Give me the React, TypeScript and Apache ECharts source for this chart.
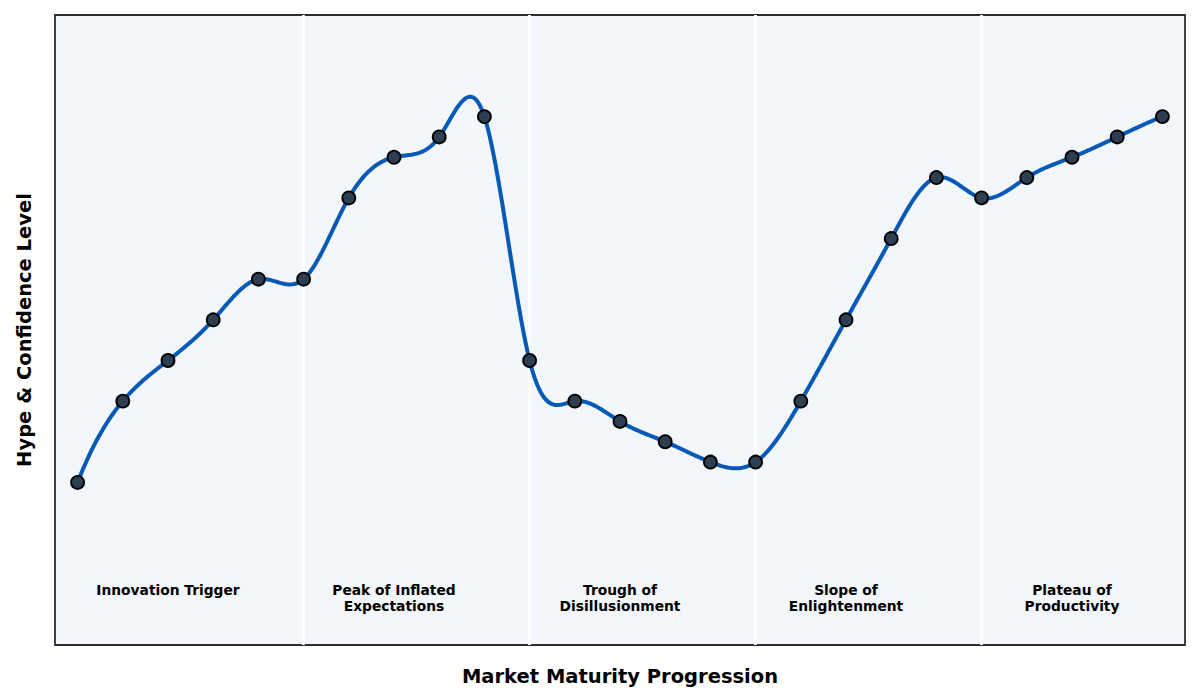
import { useEffect, useRef } from 'react'
import * as echarts from 'echarts'

// hype level per step (25 observations along the maturity axis)
const hype = [8, 12, 14, 16, 18, 18, 22, 24, 25, 26, 14, 12, 11, 10, 9, 9, 12, 16, 20, 23, 22, 23, 24, 25, 26]
const phaseBounds = [5, 10, 15, 20]
const phaseNames = [
  'Innovation Trigger',
  'Peak of Inflated\nExpectations',
  'Trough of\nDisillusionment',
  'Slope of\nEnlightenment',
  'Plateau of\nProductivity',
]
const phaseCenters = [2, 7, 12, 17, 22]
const phaseLabelY = 3.1

const FONT = '"DejaVu Sans", sans-serif'

// second derivatives of a not-a-knot cubic spline through evenly spaced values
function splineMoments(y: number[]): number[] {
  const n = y.length
  const A: number[][] = Array.from({ length: n }, () => new Array(n).fill(0))
  const b: number[] = new Array(n).fill(0)
  A[0][0] = 1; A[0][1] = -2; A[0][2] = 1
  A[n - 1][n - 3] = 1; A[n - 1][n - 2] = -2; A[n - 1][n - 1] = 1
  for (let i = 1; i < n - 1; i++) {
    A[i][i - 1] = 1; A[i][i] = 4; A[i][i + 1] = 1
    b[i] = 6 * (y[i - 1] - 2 * y[i] + y[i + 1])
  }
  // gaussian elimination with partial pivoting
  for (let c = 0; c < n; c++) {
    let p = c
    for (let r = c + 1; r < n; r++) if (Math.abs(A[r][c]) > Math.abs(A[p][c])) p = r
    ;[A[c], A[p]] = [A[p], A[c]]
    ;[b[c], b[p]] = [b[p], b[c]]
    for (let r = c + 1; r < n; r++) {
      const f = A[r][c] / A[c][c]
      if (!f) continue
      for (let k = c; k < n; k++) A[r][k] -= f * A[c][k]
      b[r] -= f * b[c]
    }
  }
  const m = new Array(n).fill(0)
  for (let r = n - 1; r >= 0; r--) {
    let s = b[r]
    for (let k = r + 1; k < n; k++) s -= A[r][k] * m[k]
    m[r] = s / A[r][r]
  }
  return m
}

export default function App() {
  const elRef = useRef<HTMLDivElement>(null)

  useEffect(() => {
    if (!elRef.current) return
    document.body.style.margin = '0'
    const chart = echarts.init(elRef.current, null, { renderer: 'svg' })
    const M = splineMoments(hype)

    chart.setOption({
      animation: false,
      grid: {
        left: 55,
        right: 15,
        top: 15,
        bottom: 55,
        show: true,
        backgroundColor: '#f3f6fa',
        borderColor: '#2e2e2e',
        borderWidth: 1.8,
      },
      xAxis: {
        type: 'value',
        min: -0.5,
        max: 24.5,
        name: 'Market Maturity Progression',
        nameLocation: 'middle',
        nameGap: 21,
        nameTextStyle: { fontFamily: FONT, fontWeight: 'bold', fontSize: 19.5, color: '#000' },
        axisLine: { show: false },
        axisTick: { show: false },
        axisLabel: { show: false },
        splitLine: { show: false },
      },
      yAxis: {
        type: 'value',
        min: 0,
        max: 31,
        name: 'Hype & Confidence Level',
        nameLocation: 'middle',
        nameGap: 21,
        nameTextStyle: { fontFamily: FONT, fontWeight: 'bold', fontSize: 19.5, color: '#000' },
        axisLine: { show: false },
        axisTick: { show: false },
        axisLabel: { show: false },
        splitLine: { show: false },
      },
      series: [
        {
          // smooth curve: each item draws the spline piece to the next point
          type: 'custom',
          silent: true,
          z: 2,
          data: hype.map((v, i) => [i, v]),
          renderItem: (params: any, api: any) => {
            const i = params.dataIndex
            if (i >= hype.length - 1) return null
            const pts: number[][] = []
            const steps = 24
            for (let s = 0; s <= steps; s++) {
              const t = s / steps
              const u = 1 - t
              const v =
                u * hype[i] + t * hype[i + 1] +
                ((u * u * u - u) * M[i] + (t * t * t - t) * M[i + 1]) / 6
              pts.push(api.coord([i + t, v]))
            }
            return {
              type: 'polyline',
              shape: { points: pts },
              style: { stroke: '#0659b5', lineWidth: 4, fill: 'none', lineCap: 'round', lineJoin: 'round' },
            }
          },
        },
        {
          type: 'scatter',
          data: hype.map((v, i) => [i, v]),
          symbol: 'circle',
          symbolSize: 13,
          itemStyle: { color: '#2d3e50', borderColor: '#000', borderWidth: 1.8, opacity: 1 },
          z: 4,
          markLine: {
            silent: true,
            symbol: 'none',
            label: { show: false },
            lineStyle: { color: '#ffffff', width: 2.8, type: 'solid', opacity: 1 },
            data: phaseBounds.map((x) => ({ xAxis: x })),
            z: 1,
          },
        },
        {
          type: 'scatter',
          symbolSize: 0,
          silent: true,
          itemStyle: { opacity: 1 },
          data: phaseCenters.map((x, i) => ({ value: [x, phaseLabelY], name: phaseNames[i] })),
          label: {
            show: true,
            position: 'bottom',
            distance: 0,
            formatter: (p: any) => p.name,
            fontFamily: FONT,
            fontWeight: 'bold',
            fontSize: 13.8,
            lineHeight: 16,
            color: '#000',
            align: 'center',
          },
        },
      ],
    })
    return () => chart.dispose()
  }, [])

  return <div ref={elRef} style={{ width: 1200, height: 700 }} />
}
